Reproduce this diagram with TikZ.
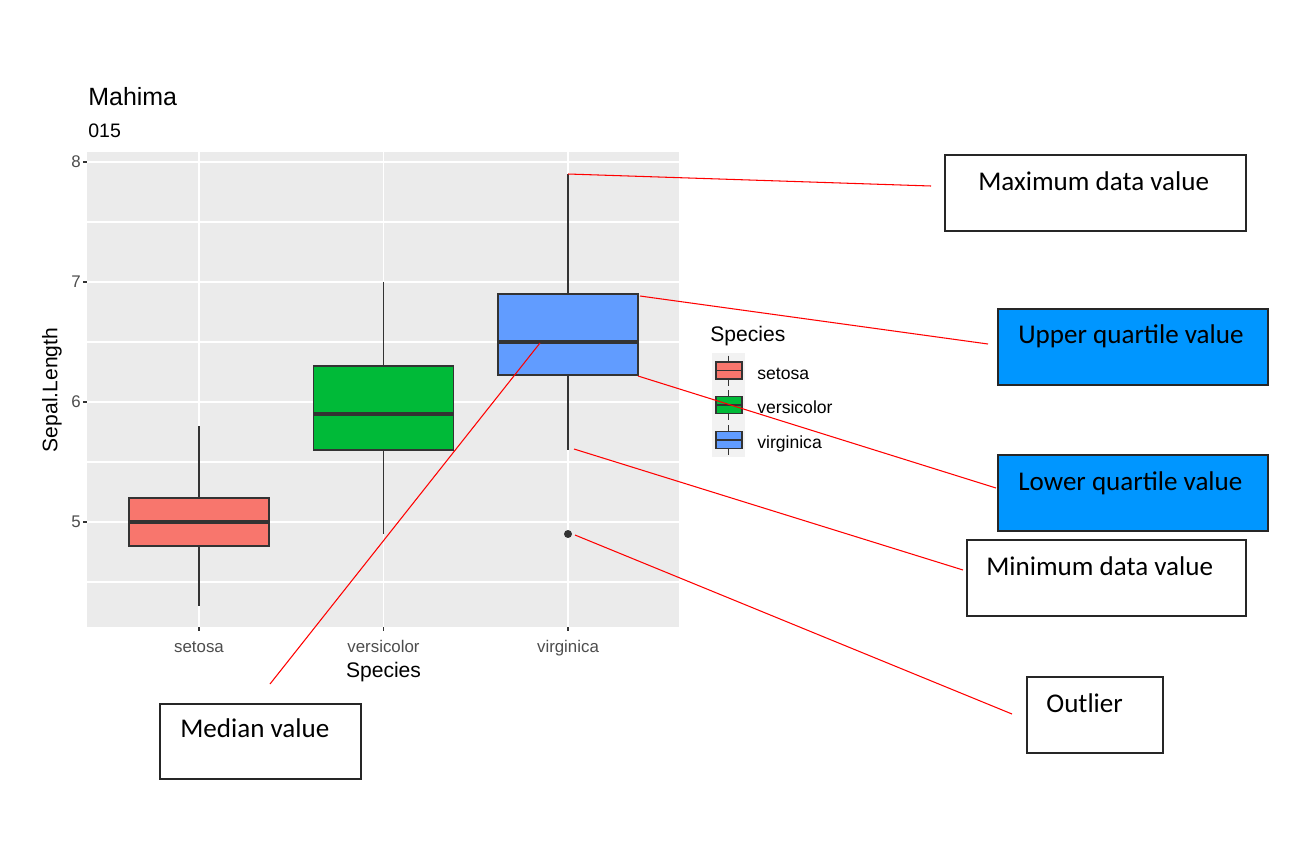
\documentclass[tikz,border=0pt]{standalone}
\usepackage{fontspec}
\setmainfont{Carlito}
\newfontfamily\plotfont{Liberation Sans}
\definecolor{panelbg}{HTML}{EBEBEB}
\definecolor{keybg}{HTML}{F2F2F2}
\definecolor{outl}{HTML}{333333}
\definecolor{ticktxt}{HTML}{4D4D4D}
\definecolor{cset}{HTML}{F8766D}
\definecolor{cver}{HTML}{00BA38}
\definecolor{cvir}{HTML}{619CFF}
\definecolor{annblue}{RGB}{0,150,255}
\begin{document}
\begin{tikzpicture}[x=0.02cm,y=-0.02cm,
  majgrid/.style={white,line width=1.1pt},
  mingrid/.style={white,line width=0.6pt},
  boxout/.style={draw=outl,line width=0.6pt},
  medline/.style={outl,line width=1.8pt},
  whisk/.style={outl,line width=0.6pt},
  tickmark/.style={outl,line width=0.6pt},
  ticklab/.style={font=\plotfont\fontsize{9.6pt}{11pt}\selectfont,text=ticktxt,inner sep=0pt},
  axtitle/.style={font=\plotfont\fontsize{12pt}{14pt}\selectfont,inner sep=0pt},
  leglab/.style={font=\plotfont\fontsize{10pt}{12pt}\selectfont,inner sep=0pt,anchor=base west},
  annbox/.style={draw=black!85,line width=1.1pt,anchor=north west,inner sep=0pt},
  anntext/.style={font=\fontsize{15.4pt}{18pt}\selectfont,inner sep=0pt,anchor=base west},
  pointer/.style={red,line width=0.6pt}]
\useasboundingbox (0,0) rectangle (1315,856);
\fill[white] (0,0) rectangle (1315,856);
% title
\node[font=\plotfont\fontsize{14.2pt}{16pt}\selectfont,inner sep=0pt,anchor=base west] (title) at (88,105) {Mahima};
\node[font=\plotfont\fontsize{11.1pt}{13pt}\selectfont,inner sep=0pt,anchor=base west] (subtitle) at (88,137) {015};
% panel
\fill[panelbg] (87,152) rectangle (679,627);
\foreach \y in {222,342,462,582} \draw[mingrid] (87,\y) -- (679,\y);
\foreach \y in {162,282,402,522} \draw[majgrid] (87,\y) -- (679,\y);
\foreach \x in {199,383.5,568} \draw[majgrid] (\x,152) -- (\x,627);
% setosa
\draw[whisk] (199,426) -- (199,606);
\filldraw[fill=cset,boxout] (129,498) rectangle (269,546);
\draw[medline] (129,522) -- (269,522);
% versicolor
\draw[whisk] (383.5,282) -- (383.5,534);
\filldraw[fill=cver,boxout] (313.5,366) rectangle (453.5,450);
\draw[medline] (313.5,414) -- (453.5,414);
% virginica
\draw[whisk] (568,174) -- (568,450);
\filldraw[fill=cvir,boxout] (498,294) rectangle (638,375);
\draw[medline] (498,342) -- (638,342);
\fill[outl] (568,534) circle (4);
% ticks
\foreach \y/\v in {162/8,282/7,402/6,522/5} {
  \draw[tickmark] (83,\y) -- (87,\y);
  \node[ticklab,anchor=east] at (81,\y) {\v};
}
\foreach \x/\t in {199/setosa,383.5/versicolor,568/virginica} {
  \draw[tickmark] (\x,627) -- (\x,631);
  \node[ticklab,anchor=base] at (\x,652) {\t};
}
\node[axtitle,anchor=base] (xtitle) at (383.5,677) {Species};
\node[axtitle,rotate=90] (ytitle) at (52,390) {Sepal.Length};
% legend
\node[axtitle,anchor=base west] (legtitle) at (710,341) {Species};
\fill[keybg] (712,353) rectangle (745,457);
\foreach \c/\cy in {cset/370.5,cver/405,cvir/440} {
  \draw[whisk] (728.5,\cy-15) -- (728.5,\cy+15);
  \filldraw[fill=\c,boxout] (716,\cy-8.5) rectangle (742,\cy+8.5);
  \draw[outl,line width=0.6pt] (716,\cy) -- (742,\cy);
}
\node[leglab] (lset) at (757,379) {setosa};
\node[leglab] (lver) at (757,413) {versicolor};
\node[leglab] (lvir) at (757,448) {virginica};
% annotation boxes
\node[annbox,minimum width=301*0.02cm,minimum height=76*0.02cm] (bmax) at (944,154) {};
\node[annbox,fill=annblue,minimum width=270*0.02cm,minimum height=76*0.02cm] (bupq) at (997,308) {};
\node[annbox,fill=annblue,minimum width=270*0.02cm,minimum height=76*0.02cm] (blowq) at (997,454) {};
\node[annbox,minimum width=279*0.02cm,minimum height=76*0.02cm] (bmin) at (966,539) {};
\node[annbox,minimum width=136*0.02cm,minimum height=76*0.02cm] (bout) at (1026,676) {};
\node[annbox,minimum width=201*0.02cm,minimum height=75*0.02cm] (bmed) at (159,703) {};
\node[anntext] (tmax) at (978,190) {Maximum data value};
\node[anntext] (tupq) at (1018,343) {Upper quartile value};
\node[anntext] (tlowq) at (1018,490) {Lower quartile value};
\node[anntext] (tmin) at (986,575) {Minimum data value};
\node[anntext] (tout) at (1046,712) {Outlier};
\node[anntext] (tmed) at (180,737) {Median value};
% pointer ends
\coordinate (pmax) at (568,174);
\coordinate (emax) at (931,186);
\coordinate (pupq) at (640,296);
\coordinate (eupq) at (988,344);
\coordinate (plowq) at (638,376);
\coordinate (elowq) at (996,488);
\coordinate (pmin) at (574,449);
\coordinate (emin) at (963,570);
\coordinate (pout) at (575,535);
\coordinate (eout) at (1012,714);
\coordinate (pmed) at (540,343);
\coordinate (emed) at (270,684);
\draw[pointer] (pmax) -- (emax);
\draw[pointer] (pupq) -- (eupq);
\draw[pointer] (plowq) -- (elowq);
\draw[pointer] (pmin) -- (emin);
\draw[pointer] (pout) -- (eout);
\draw[pointer] (pmed) -- (emed);
\end{tikzpicture}
\end{document}
